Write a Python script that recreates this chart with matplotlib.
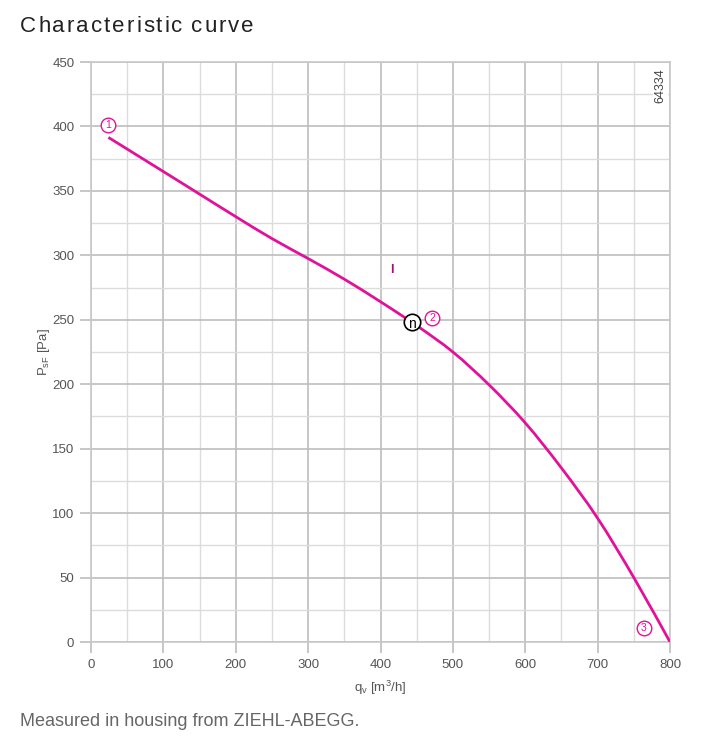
import numpy as np
import matplotlib
matplotlib.use('Agg')
import matplotlib.pyplot as plt
from matplotlib.ticker import MultipleLocator
from matplotlib.path import Path
from matplotlib.patches import PathPatch

# curve data
flow = [24, 100, 150, 200, 250, 300, 350, 400, 450, 500, 550, 600, 650, 700, 750, 800]
pressure = [391.5, 365, 347.5, 330, 313, 297.5, 281.5, 264, 245.5, 225, 199.5, 170,
            135, 96, 50, 0]

# annotation points
marks = ['1', '2', '3']
mark_x = [23, 471, 764]
mark_y = [401, 251, 11]
op_x, op_y = 443, 248
label_x, label_y = 416, 289

plt.rcParams['font.family'] = ['Liberation Sans', 'DejaVu Sans']
pink = '#e0129a'
grey_txt = '#555555'

fig = plt.figure(figsize=(7.23, 7.48), dpi=100)
ax = fig.add_axes([0.1259, 0.1417, 0.8008, 0.7754])

# smooth curve through the read points (Catmull-Rom as cubic bezier segments)
pts = np.column_stack([flow, pressure]).astype(float)
verts = [pts[0]]
codes = [Path.MOVETO]
n = len(pts)
for i in range(n - 1):
    p0 = pts[max(i - 1, 0)]
    p1 = pts[i]
    p2 = pts[i + 1]
    p3 = pts[min(i + 2, n - 1)]
    verts += [p1 + (p2 - p0) / 6, p2 - (p3 - p1) / 6, p2]
    codes += [Path.CURVE4] * 3
ax.add_patch(PathPatch(Path(verts, codes), fill=False, edgecolor=pink, lw=2,
                       zorder=3, capstyle='butt'))

for m, x, y in zip(marks, mark_x, mark_y):
    ax.scatter([x], [y], s=110, facecolor='white', edgecolor=pink, lw=1, zorder=4)
    ax.text(x, y, m, color=pink, fontsize=7.5, ha='center', va='center', zorder=5)

ax.scatter([op_x], [op_y], s=140, facecolor='white', edgecolor='black', lw=1.2, zorder=4)
ax.text(op_x, op_y - 1, 'n', color='black', fontsize=10, ha='center', va='center', zorder=5)
ax.text(label_x, label_y, 'I', color='#a0107a', fontsize=9, ha='center', va='center',
        fontweight='bold')

ax.text(0.994, 0.99, '64334', transform=ax.transAxes, rotation=90, ha='right', va='top',
        fontsize=9, color='#444444',
        bbox=dict(facecolor='white', edgecolor='none', pad=1))

ax.set_xlim(0, 800)
ax.set_ylim(0, 450)
ax.xaxis.set_major_locator(MultipleLocator(100))
ax.xaxis.set_minor_locator(MultipleLocator(50))
ax.yaxis.set_major_locator(MultipleLocator(50))
ax.yaxis.set_minor_locator(MultipleLocator(25))
ax.grid(which='major', color='#bdbdbd', lw=1.2)
ax.grid(which='minor', color='#dcdcdc', lw=1.0)
ax.set_axisbelow(True)
for s in ax.spines.values():
    s.set_color('#c8c8c8')
    s.set_linewidth(1.2)

ax.tick_params(which='major', length=8, color='#bdbdbd', width=1.2,
               labelsize=9.5, labelcolor=grey_txt, pad=4)
ax.tick_params(which='minor', length=0)

ax.set_xlabel(r'q$_\mathregular{v}$ [m$^\mathregular{3}$/h]', fontsize=9.5, color=grey_txt, labelpad=6)
ax.set_ylabel(r'P$_\mathregular{sF}$ [Pa]', fontsize=9.5, color=grey_txt, labelpad=0)

# title with letter spacing, placed char by char
renderer = fig.canvas.get_renderer()
title = 'Characteristic curve'
xpos = 20
for ch in title:
    t = fig.text(xpos / 723, 1 - 26 / 748, ch, fontsize=16, color='#222222',
                 ha='left', va='center')
    w = t.get_window_extent(renderer).width if ch != ' ' else 4.5
    xpos += w + 2.0

fig.text(20 / 723, 1 - 721 / 748, 'Measured in housing from ZIEHL-ABEGG.', fontsize=13,
         color='#666666', ha='left', va='center')

fig.savefig('out.png', dpi=100)
